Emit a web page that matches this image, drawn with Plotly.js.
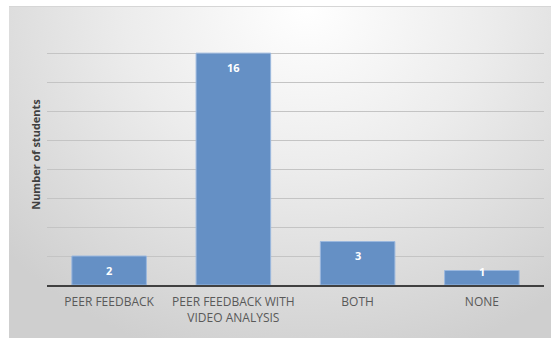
<!DOCTYPE html>
<html>
<head>
<meta charset="utf-8">
<script src="https://cdn.plot.ly/plotly-3.0.1.min.js"></script>
<style>
  html, body { margin: 0; padding: 0; background: #ffffff; }
  #frame {
    position: absolute; left: 9px; top: 6px; width: 542px; height: 332px;
    background: radial-gradient(ellipse 75% 110% at 55% 0%, #ffffff 0%, #ececec 45%, #cfcfcf 100%);
    border-top: 1px solid #d6d6d6;
  }
  #chart { position: absolute; left: 0; top: 0; width: 551px; height: 338px; }
</style>
</head>
<body>
<div id="frame"></div>
<div id="chart"></div>
<script>
// Feedback method preferred by students
const categories = ["PEER FEEDBACK", "PEER FEEDBACK WITH<br>VIDEO ANALYSIS", "BOTH", "NONE"];
const students = [2, 16, 3, 1];

const yMax = 18;
const plotTop = 24, plotBottom = 285;
const pxPerUnit = (plotBottom - plotTop) / yMax;

const bar = {
  type: "bar",
  x: categories,
  y: students,
  marker: { color: "#6590c5", line: { color: "#9bb8de", width: 1 } },
  hoverinfo: "x+y"
};

// Value labels just inside the top of each bar
const labels = students.map((v, i) => ({
  x: categories[i],
  y: v,
  text: String(v),
  showarrow: false,
  xanchor: "center",
  yanchor: "middle",
  yshift: v * pxPerUnit >= 28 ? -14 : -1,
  font: { family: "Open Sans, sans-serif", size: 11, color: "#ffffff", weight: "bold" }
}));

const layout = {
  width: 551,
  height: 338,
  margin: { l: 47, r: 7, t: plotTop, b: 338 - plotBottom, pad: 0 },
  paper_bgcolor: "rgba(0,0,0,0)",
  plot_bgcolor: "rgba(0,0,0,0)",
  bargap: 0.4,
  showlegend: false,
  font: { family: "Open Sans, sans-serif", color: "#595959" },
  xaxis: {
    showline: true,
    linecolor: "#404040",
    linewidth: 1.5,
    ticks: "",
    ticklabelstandoff: 5,
    tickfont: { size: 12, color: "#595959" },
    showgrid: false,
    fixedrange: true
  },
  yaxis: {
    range: [0, yMax + 0.01],
    dtick: 2,
    showticklabels: false,
    showgrid: true,
    gridcolor: "#c4c4c4",
    gridwidth: 1,
    zeroline: false,
    ticks: "",
    title: {
      text: "Number of students",
      font: { size: 11, color: "#404040", weight: "bold" },
      standoff: 3
    },
    fixedrange: true
  },
  annotations: labels
};

Plotly.newPlot("chart", [bar], layout, { displayModeBar: false, staticPlot: true });
</script>
</body>
</html>
